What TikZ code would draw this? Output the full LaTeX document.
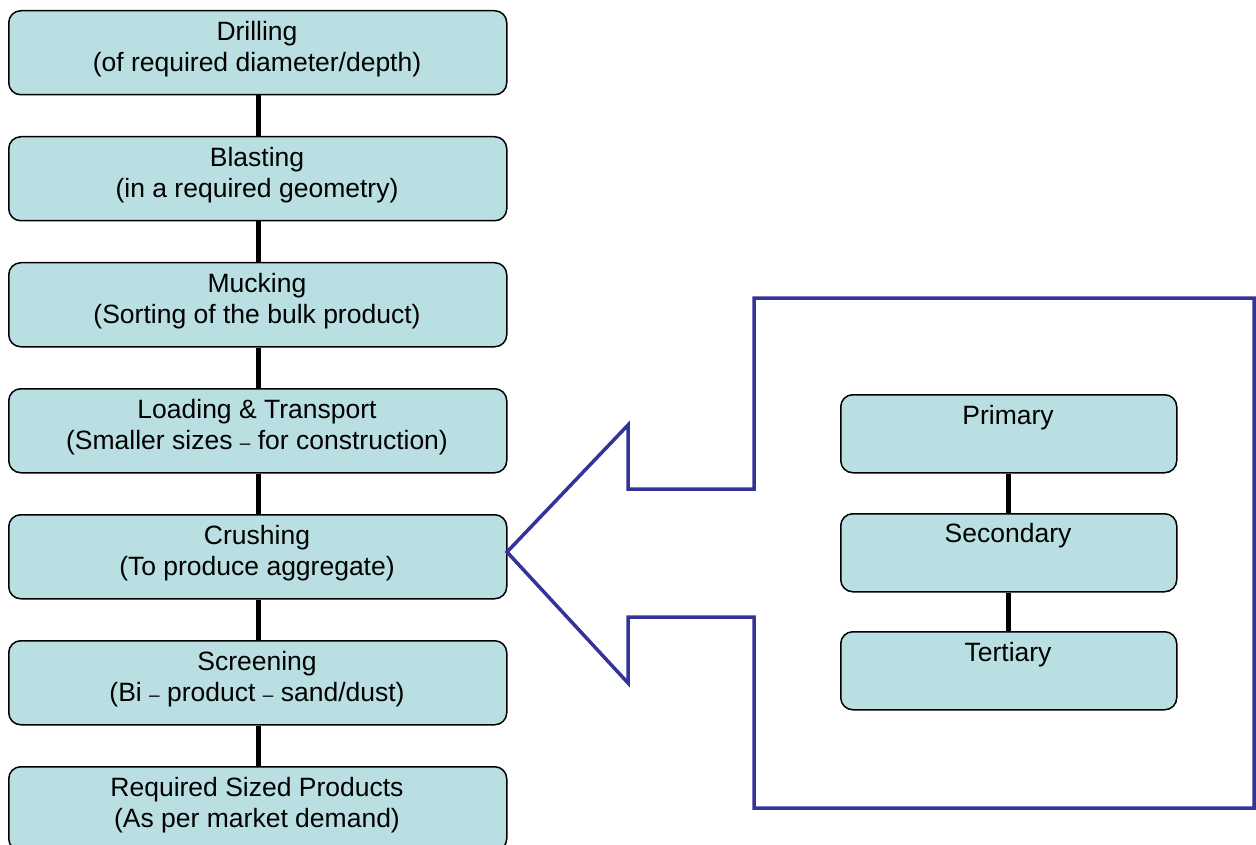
\documentclass[tikz,border=0pt]{standalone}
\usepackage{fontspec}
\setmainfont{Liberation Sans}
\definecolor{boxfill}{HTML}{B9DFE2}
\definecolor{arrowblue}{HTML}{333399}
\begin{document}
\begin{tikzpicture}[x=1pt,y=-1pt,
  stepbox/.style={draw=black,line width=1.5pt,fill=boxfill,rounded corners=12pt,minimum width=498pt,minimum height=84pt,inner sep=0pt,anchor=north west},
  subbox/.style={draw=black,line width=1.5pt,fill=boxfill,rounded corners=12pt,minimum width=336pt,minimum height=78pt,inner sep=0pt,anchor=north west},
  lbl/.style={font=\fontsize{26.5}{31}\selectfont,align=center,inner sep=0pt},
  link/.style={line width=4.8pt,black}]
\useasboundingbox (0,0) rectangle (1256,845);
% left column
\node[stepbox] (b1) at (8,10) {};
\node[stepbox] (b2) at (8,136) {};
\node[stepbox] (b3) at (8,262) {};
\node[stepbox] (b4) at (8,388) {};
\node[stepbox] (b5) at (8,514) {};
\node[stepbox] (b6) at (8,640) {};
\node[stepbox] (b7) at (8,766) {};
\node[lbl] (t1) at (257,49) {Drilling\\(of required diameter/depth)};
\node[lbl] (t2) at (257,175) {Blasting\\(in a required geometry)};
\node[lbl] (t3) at (257,301) {Mucking\\(Sorting of the bulk product)};
\node[lbl] (t4) at (257,427) {Loading \& Transport\\(Smaller sizes {\fontsize{19}{19}\selectfont –} for construction)};
\node[lbl] (t5) at (257,553) {Crushing\\(To produce aggregate)};
\node[lbl] (t6) at (257,679) {Screening\\(Bi {\fontsize{19}{19}\selectfont –} product {\fontsize{19}{19}\selectfont –} sand/dust)};
\node[lbl] (t7) at (257,805) {Required Sized Products\\(As per market demand)};
\foreach \a/\b in {b1/b2,b2/b3,b3/b4,b4/b5,b5/b6,b6/b7}
  \draw[link] ([xshift=1pt]\a.south) -- ([xshift=1pt]\b.north);
% big arrow
\coordinate (tip) at (507,552);
\draw[arrowblue,line width=3.5pt,line join=miter]
  (tip) -- (628,425) -- (628,489) -- (754,489) -- (754,298) -- (1254,298)
  -- (1254,808) -- (754,808) -- (754,617) -- (628,617) -- (628,683) -- cycle;
% right column
\node[subbox] (p1) at (840,394) {};
\node[subbox] (p2) at (840,513) {};
\node[subbox] (p3) at (840,631) {};
\node[lbl] (s1) at (1008,418) {Primary};
\node[lbl] (s2) at (1008,536) {Secondary};
\node[lbl] (s3) at (1008,655) {Tertiary};
\draw[link] (p1.south) -- (p2.north);
\draw[link] (p2.south) -- (p3.north);
\end{tikzpicture}
\end{document}
